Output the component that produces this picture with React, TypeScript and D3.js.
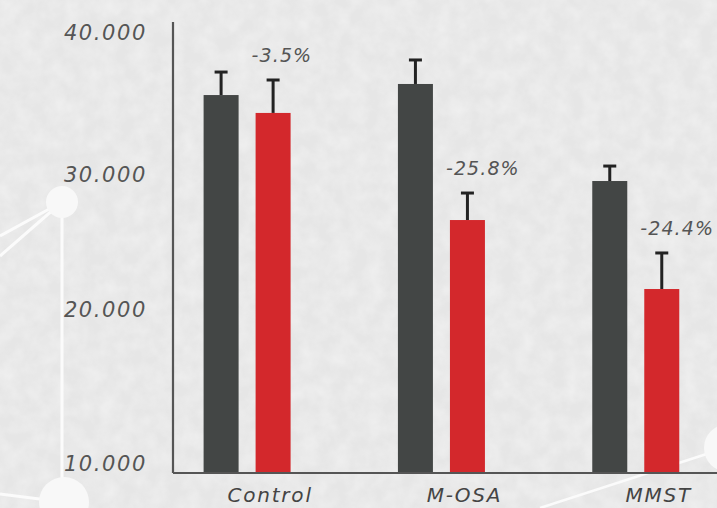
import React from "react";
import * as d3 from "d3";

const categories = ["Control", "M-OSA", "MMST"];
const series = ["baseline", "treated"];
const baselineValues = [35560, 36340, 29480];
const baselineErrors = [1620, 1690, 1080];
const treatedValues = [34300, 26590, 21480];
const treatedErrors = [2320, 2000, 2670];
const changeLabels = ["-3.5%", "-25.8%", "-24.4%"];
const tickValues = [10000, 20000, 30000, 40000];
const tickLabels = ["10.000", "20.000", "30.000", "40.000"];

const W = 717;
const H = 508;
const axisX = 173;
const axisTop = 22;
const baseY = 473;

const colors: Record<string, string> = { baseline: "#434645", treated: "#d3282c" };
const font = "'DejaVu Sans', 'Noto Sans', sans-serif";

export default function App() {
  const y = d3.scaleLinear().domain(tickValues).range([463, 309, 174, 32]);
  const x0 = d3.scaleBand<string>().domain(categories).range([150, 733]).paddingInner(0).paddingOuter(0);
  const x1 = d3.scaleBand<string>().domain(series).range([53.6, 140.6]).paddingInner(0.327).paddingOuter(0);
  const bw = x1.bandwidth();

  const rows = categories.map((c, i) => ({
    cat: c,
    bars: [
      { key: "baseline", v: baselineValues[i], e: baselineErrors[i] },
      { key: "treated", v: treatedValues[i], e: treatedErrors[i] },
    ],
    label: changeLabels[i],
  }));

  return (
    <svg width={W} height={H} style={{ position: "absolute", left: 0, top: 0, display: "block" }}>
      <defs>
        <filter id="tex" x="0" y="0" width="100%" height="100%">
          <feTurbulence type="fractalNoise" baseFrequency="0.06" numOctaves="3" seed="4" result="n" />
          <feColorMatrix type="matrix" values="0 0 0 0 1  0 0 0 0 1  0 0 0 0 1  0 0 0 -1.4 1.0" />
        </filter>
      </defs>
      <rect width={W} height={H} fill="#e6e6e6" />
      <rect width={W} height={H} fill="#fff" filter="url(#tex)" opacity={0.4} />

      {/* decorative network */}
      <g stroke="#fbfbfb" strokeWidth={3} fill="none">
        <line x1={62} y1={202} x2={0} y2={236} />
        <line x1={62} y1={202} x2={0} y2={256} />
        <line x1={62} y1={202} x2={62} y2={495} />
        <line x1={63} y1={502} x2={0} y2={494} />
        <line x1={540} y1={508} x2={725} y2={448} strokeWidth={2.5} />
      </g>
      <g fill="#f8f8f8">
        <circle cx={62} cy={202} r={16} />
        <circle cx={64} cy={502} r={25} />
        <circle cx={728} cy={448} r={24} />
      </g>

      {/* y tick labels */}
      {tickValues.map((t, i) => (
        <text
          key={t}
          x={147}
          y={y(t)}
          dy="0.36em"
          textAnchor="end"
          fontFamily={font}
          fontStyle="italic"
          fontWeight={200}
          fontSize={21}
          letterSpacing={1.6}
          fill="#555"
        >
          {tickLabels[i]}
        </text>
      ))}

      {/* bars */}
      {rows.map((r) => (
        <g key={r.cat} transform={`translate(${x0(r.cat)},0)`}>
          {r.bars.map((b) => {
            const bx = x1(b.key)!;
            const cx = bx + bw / 2;
            const top = y(b.v);
            const et = y(b.v + b.e);
            return (
              <g key={b.key}>
                <line x1={cx} x2={cx} y1={top} y2={et} stroke="#222" strokeWidth={3} />
                <line x1={cx - 6.5} x2={cx + 6.5} y1={et} y2={et} stroke="#222" strokeWidth={3} />
                <rect x={bx} y={top} width={bw} height={baseY - top} fill={colors[b.key]} />
              </g>
            );
          })}
          <text
            x={x1("treated")! - 4}
            y={y(r.bars[1].v + r.bars[1].e) - 18}
            fontFamily={font}
            fontStyle="italic"
            fontWeight={200}
            fontSize={19}
            letterSpacing={1.1}
            fill="#555"
          >
            {r.label}
          </text>
          <text
            x={x1("treated")! + bw / 2 - 3}
            y={502}
            textAnchor="middle"
            fontFamily={font}
            fontStyle="italic"
            fontWeight={200}
            fontSize={20}
            letterSpacing={1.8}
            fill="#444"
          >
            {r.cat}
          </text>
        </g>
      ))}

      {/* axes */}
      <line x1={axisX} x2={axisX} y1={axisTop} y2={baseY} stroke="#555" strokeWidth={2.2} />
      <line x1={axisX} x2={W} y1={baseY} y2={baseY} stroke="#555" strokeWidth={2.2} />
    </svg>
  );
}
